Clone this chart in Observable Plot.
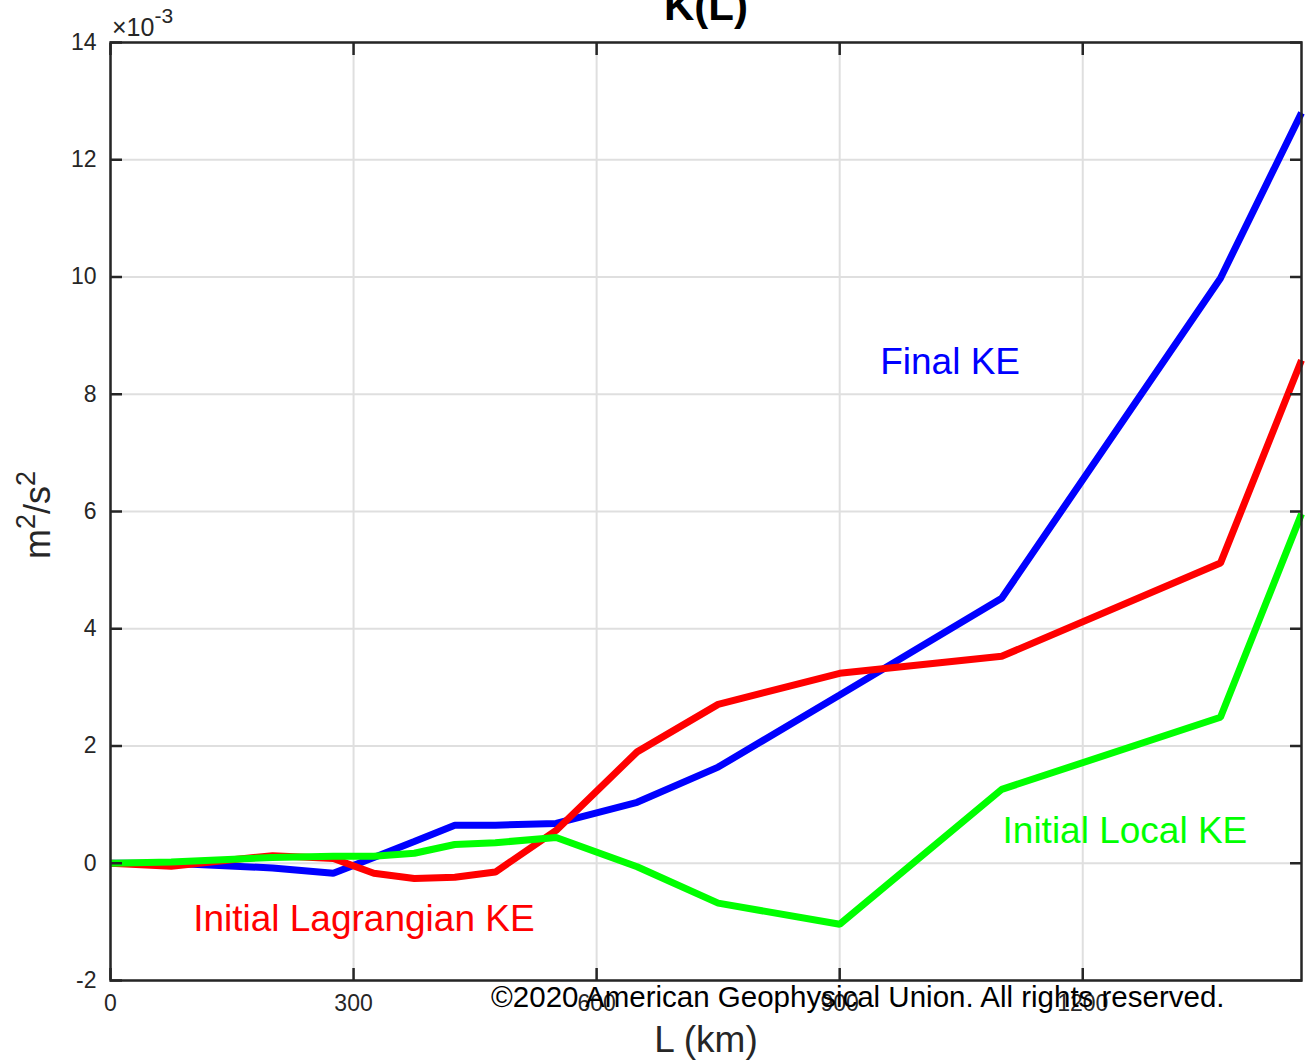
<!DOCTYPE html>
<html>
<head>
<meta charset="utf-8">
<script src="https://cdn.jsdelivr.net/npm/d3@7"></script>
<script src="https://cdn.jsdelivr.net/npm/@observablehq/plot@0.6"></script>
<style>
  html, body { margin: 0; padding: 0; background: #fff; }
  #chart { width: 1307px; height: 1061px; }
</style>
</head>
<body>
<div id="chart"></div>
<script>
// ---- data (values in units of 1e-3 m^2/s^2) ----
const L_km = [0, 75, 200, 275, 325, 375, 425, 475, 550, 650, 750, 900, 1100, 1370, 1470];
const finalKE = [0, 0.0, -0.08, -0.17, 0.1, 0.37, 0.65, 0.65, 0.68, 1.04, 1.64, 2.87, 4.52, 9.98, 12.8];
const initialLagrangianKE = [0, -0.05, 0.13, 0.08, -0.17, -0.26, -0.24, -0.15, 0.56, 1.9, 2.71, 3.24, 3.53, 5.12, 8.58];
const initialLocalKE = [0, 0.02, 0.1, 0.12, 0.12, 0.17, 0.32, 0.35, 0.44, -0.06, -0.68, -1.04, 1.26, 2.49, 5.96];
const seriesNames = ["Final KE", "Initial Lagrangian KE", "Initial Local KE"];
const seriesColors = ["#0000ff", "#ff0000", "#00ff00"];
const xTicks = [0, 300, 600, 900, 1200];
const yTicks = [-2, 0, 2, 4, 6, 8, 10, 12, 14];
// label anchor points (data coords)
const labelX = [950, 102, 1101];
const labelY = [8.55, -0.96, 0.55];

const seriesValues = [finalKE, initialLagrangianKE, initialLocalKE];
const rows = [];
seriesNames.forEach((name, i) => {
  L_km.forEach((x, j) => rows.push({series: name, L: x, K: seriesValues[i][j]}));
});
const labels = seriesNames.map((name, i) => ({series: name, x: labelX[i], y: labelY[i]}));

const font = "'Liberation Sans', Arial, Helvetica, sans-serif";
const axisColor = "#262626";
const plain = d => String(d);

const chart = Plot.plot({
  width: 1307,
  height: 1061,
  marginLeft: 110,
  marginRight: 6,
  marginTop: 42,
  marginBottom: 81,
  style: {fontFamily: font, background: "#fff", color: axisColor, overflow: "hidden"},
  x: {domain: [0, 1470], ticks: xTicks},
  y: {domain: [-2, 14], ticks: yTicks},
  color: {domain: seriesNames, range: seriesColors},
  marks: [
    Plot.gridX(xTicks, {stroke: "#dfdfdf", strokeOpacity: 1, strokeWidth: 2}),
    Plot.gridY(yTicks, {stroke: "#dfdfdf", strokeOpacity: 1, strokeWidth: 2}),
    Plot.line(rows, {x: "L", y: "K", z: "series", stroke: "series", strokeWidth: 7, strokeLinejoin: "miter", strokeLinecap: "butt"}),
    Plot.frame({stroke: axisColor, strokeWidth: 2.5}),
    // inward ticks on all four sides
    Plot.axisX(xTicks, {anchor: "bottom", tickSize: -12, tickFormat: () => "", stroke: axisColor, strokeWidth: 2.5, label: null}),
    Plot.axisX(xTicks, {anchor: "top", tickSize: -12, tickFormat: () => "", stroke: axisColor, strokeWidth: 2.5, label: null}),
    Plot.axisY(yTicks, {anchor: "left", tickSize: -12, tickFormat: () => "", stroke: axisColor, strokeWidth: 2.5, label: null}),
    Plot.axisY(yTicks, {anchor: "right", tickSize: -12, tickFormat: () => "", stroke: axisColor, strokeWidth: 2.5, label: null}),
    // tick labels
    Plot.axisX(xTicks, {anchor: "bottom", tickSize: 0, tickPadding: 14, fontSize: 23, fill: axisColor, tickFormat: plain, label: null}),
    Plot.axisY(yTicks, {anchor: "left", tickSize: 0, tickPadding: 14, fontSize: 23, fill: axisColor, tickFormat: plain, label: null}),
    // series labels
    Plot.text(labels, {x: "x", y: "y", text: "series", fill: "series", textAnchor: "start", fontSize: 37}),
    // x label
    Plot.text(["L (km)"], {frameAnchor: "bottom", dy: 71, fontSize: 37, fill: axisColor}),
    // title
    Plot.text(["K(L)"], {frameAnchor: "top", dy: -52, fontSize: 42, fontWeight: "bold", fill: "#000"}),
    // copyright
    Plot.text(["©2020 American Geophysical Union. All rights reserved."], {frameAnchor: "bottom-right", dx: -77, dy: 26, textAnchor: "end", fontSize: 29.5, fill: "#000"})
  ]
});

document.getElementById("chart").appendChild(chart);

// y axis label with superscripts and the exponent marker
const svg = d3.select(chart);
const yl = svg.append("text")
  .attr("transform", "translate(50,515) rotate(-90)")
  .attr("text-anchor", "middle")
  .attr("font-family", font)
  .attr("font-size", 36)
  .attr("fill", axisColor);
yl.append("tspan").text("m");
yl.append("tspan").attr("dy", -15).attr("font-size", 27).text("2");
yl.append("tspan").attr("dy", 15).text("/s");
yl.append("tspan").attr("dy", -15).attr("font-size", 27).text("2");

const ex = svg.append("text")
  .attr("x", 112)
  .attr("y", 36)
  .attr("text-anchor", "start")
  .attr("font-family", font)
  .attr("font-size", 25)
  .attr("fill", axisColor);
ex.append("tspan").text("×10");
ex.append("tspan").attr("dy", -13).attr("font-size", 21).text("-3");
</script>
</body>
</html>
